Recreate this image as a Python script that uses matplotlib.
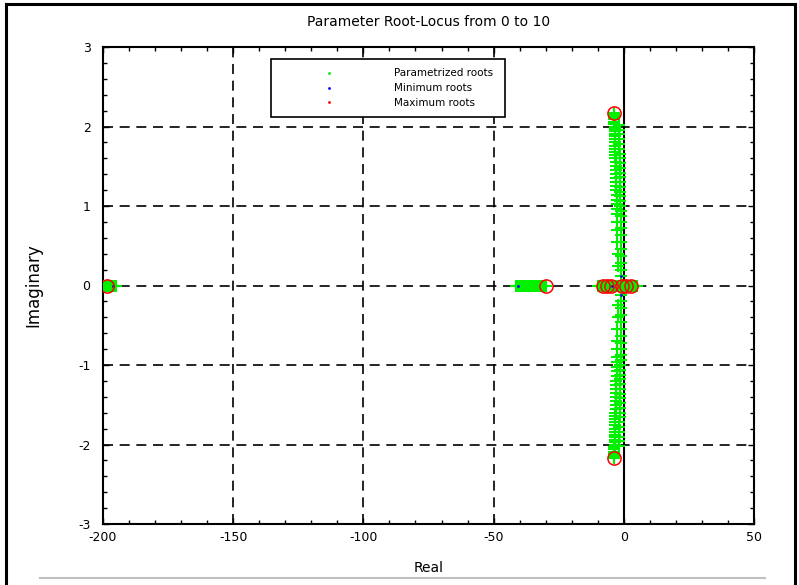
import matplotlib
matplotlib.use("Agg")
import matplotlib.pyplot as plt
from matplotlib.lines import Line2D
from matplotlib.ticker import MultipleLocator

plt.rcParams['font.family'] = ['DejaVu Sans']
plt.rcParams['axes.unicode_minus'] = False

# ---------------- data ----------------
title = "Parameter Root-Locus from 0 to 10"
xlabel = "Real"
ylabel = "Imaginary"
legend_labels = ["Parametrized roots", "Minimum roots", "Maximum roots"]

# parametrized roots on the real axis
real_far = [-199.5, -199.0, -198.5, -198.0, -197.5, -197.0, -196.5, -196.0, -195.5, -195.0]
real_mid = [-41.5, -41.0, -40.5, -40.0, -39.5, -39.0, -38.5, -38.0, -37.5, -37.0, -36.5,
            -36.0, -35.5, -35.0, -34.5, -34.0, -33.5, -33.0, -32.5, -32.0, -31.5, -31.0,
            -30.5, -30.0]
real_near = [-10.0, -9.5, -9.0, -8.5, -8.0, -7.5, -7.0, -6.5, -6.0, -5.5, -5.0, -4.5,
             -4.0, -3.5, -3.0, -2.5, -2.0, -1.5, -1.0, -0.5, 0.0, 0.5, 1.0, 1.5, 2.0,
             2.5, 3.0, 3.5, 4.0, 4.5, 5.0]

# complex branches (upper half; lower half is the conjugate)
branch_a_re = [-2.4, -2.4, -2.5, -2.5, -2.6, -2.6, -2.7, -2.7, -2.8, -2.8, -2.9, -2.9,
               -3.0, -3.0, -3.0, -3.1, -3.1, -3.1, -3.2, -3.2, -3.2, -3.3, -3.3, -3.3,
               -3.4, -3.4, -3.4, -3.5, -3.5, -3.5, -3.6, -3.6, -3.6, -3.7, -3.7, -3.8]
branch_a_im = [0.25, 0.40, 0.55, 0.70, 0.80, 0.90, 0.96, 1.02, 1.08, 1.14, 1.20, 1.25,
               1.30, 1.35, 1.40, 1.45, 1.50, 1.55, 1.60, 1.64, 1.68, 1.72, 1.76, 1.80,
               1.84, 1.88, 1.91, 1.94, 1.97, 2.00, 2.03, 2.06, 2.09, 2.12, 2.15, 2.17]
branch_b_re = [-0.9, -0.9, -1.0, -1.0, -1.0, -1.1, -1.1, -1.1, -1.2, -1.2, -1.2, -1.3,
               -1.3, -1.3, -1.4, -1.4, -1.4, -1.5, -1.5, -1.5, -1.6, -1.6, -1.6, -1.7,
               -1.7, -1.7, -1.8, -1.8, -1.8]
branch_b_im = [0.12, 0.20, 0.28, 0.37, 0.46, 0.55, 0.64, 0.72, 0.80, 0.87, 0.94, 1.00,
               1.06, 1.12, 1.18, 1.24, 1.30, 1.36, 1.42, 1.48, 1.54, 1.60, 1.66, 1.72,
               1.78, 1.84, 1.90, 1.96, 2.02]

# minimum roots (k = 0)
min_re = [-196.2, -40.7, -4.6, -1.0, -1.0]
min_im = [0.0, 0.0, 0.0, 0.12, -0.12]

# maximum roots (k = 10)
max_re = [-198.5, -30.0, -8.0, -6.5, -4.8, -0.8, 1.0, 2.8, -3.8, -3.8]
max_im = [0.0, 0.0, 0.0, 0.0, 0.0, 0.0, 0.0, 0.0, 2.17, -2.17]

x_limits = (-200, 50)
y_limits = (-3, 3)

# ---------------- figure ----------------
fig = plt.figure(figsize=(7.99, 5.85), dpi=100)
W, H = 799, 585
ax = fig.add_axes([103 / W, 1 - 524 / H, (754 - 103) / W, (524 - 47) / H])

green = '#00f000'
pkw = dict(linestyle='none', marker='+', color=green, markersize=8, markeredgewidth=1.5, zorder=3)

real_all = real_far + real_mid + real_near
ax.plot(real_all, [0.0] * len(real_all), **pkw)
for re_list, im_list in ((branch_a_re, branch_a_im), (branch_b_re, branch_b_im)):
    ax.plot(re_list, im_list, **pkw)
    ax.plot(re_list, [-v for v in im_list], **pkw)

ax.plot(min_re, min_im, linestyle='none', marker='.', color='#0000ff', markersize=2, zorder=4)
ax.plot(max_re, max_im, linestyle='none', marker='o', markerfacecolor='none',
        markeredgecolor='#ff0000', markersize=9.5, markeredgewidth=1.1, zorder=5)

ax.set_xlim(*x_limits)
ax.set_ylim(*y_limits)
ax.xaxis.set_major_locator(MultipleLocator(50))
ax.xaxis.set_minor_locator(MultipleLocator(10))
ax.yaxis.set_major_locator(MultipleLocator(1))
ax.yaxis.set_minor_locator(MultipleLocator(0.2))
ax.tick_params(which='both', direction='in', top=True, right=True, labelsize=9,
               width=1.0, colors='black')
ax.tick_params(axis='x', which='major', pad=5)
ax.tick_params(axis='y', which='major', pad=9)
ax.tick_params(which='major', length=4)
ax.tick_params(which='minor', length=3)
ax.grid(True, which='major', color='black', linestyle=(0, (6, 4)), linewidth=1.2, zorder=1)
ax.axvline(0, color='black', linewidth=1.5, zorder=2)
for sp in ax.spines.values():
    sp.set_linewidth(1.5)

ax.set_title(title, fontsize=10, pad=15)
ax.set_xlabel(xlabel, fontsize=10, labelpad=12)
ax.set_ylabel(ylabel, fontsize=12, labelpad=26)

handles = [Line2D([], [], linestyle='none', marker='.', color=c, markersize=2)
           for c in (green, '#0000ff', '#ff0000')]
leg = ax.legend(handles, legend_labels, loc='upper left',
                bbox_to_anchor=((271 - 103) / 651, 1 - (59 - 47) / 477, (505 - 271) / 651, 0.0),
                mode='expand', borderaxespad=0, prop={'family': 'DejaVu Sans', 'size': 7.5},
                handlelength=9.4, handletextpad=1.5, labelspacing=0.46, borderpad=0.9,
                fancybox=False, framealpha=1, edgecolor='black')
leg.get_frame().set_linewidth(1.2)
leg.set_zorder(10)

# outer border and bottom gray line
fig.add_artist(Line2D([6 / W, 6 / W], [0, 1 - 4 / H], color='black', linewidth=2.2))
fig.add_artist(Line2D([6 / W, 795 / W], [1 - 4 / H, 1 - 4 / H], color='black', linewidth=2.2))
fig.add_artist(Line2D([795 / W, 795 / W], [0, 1 - 4 / H], color='black', linewidth=2.2))
fig.add_artist(Line2D([40 / W, 765 / W], [1 - 578 / H, 1 - 578 / H], color='#c0c0c0', linewidth=1.5))

fig.savefig("out.png", dpi=100)
